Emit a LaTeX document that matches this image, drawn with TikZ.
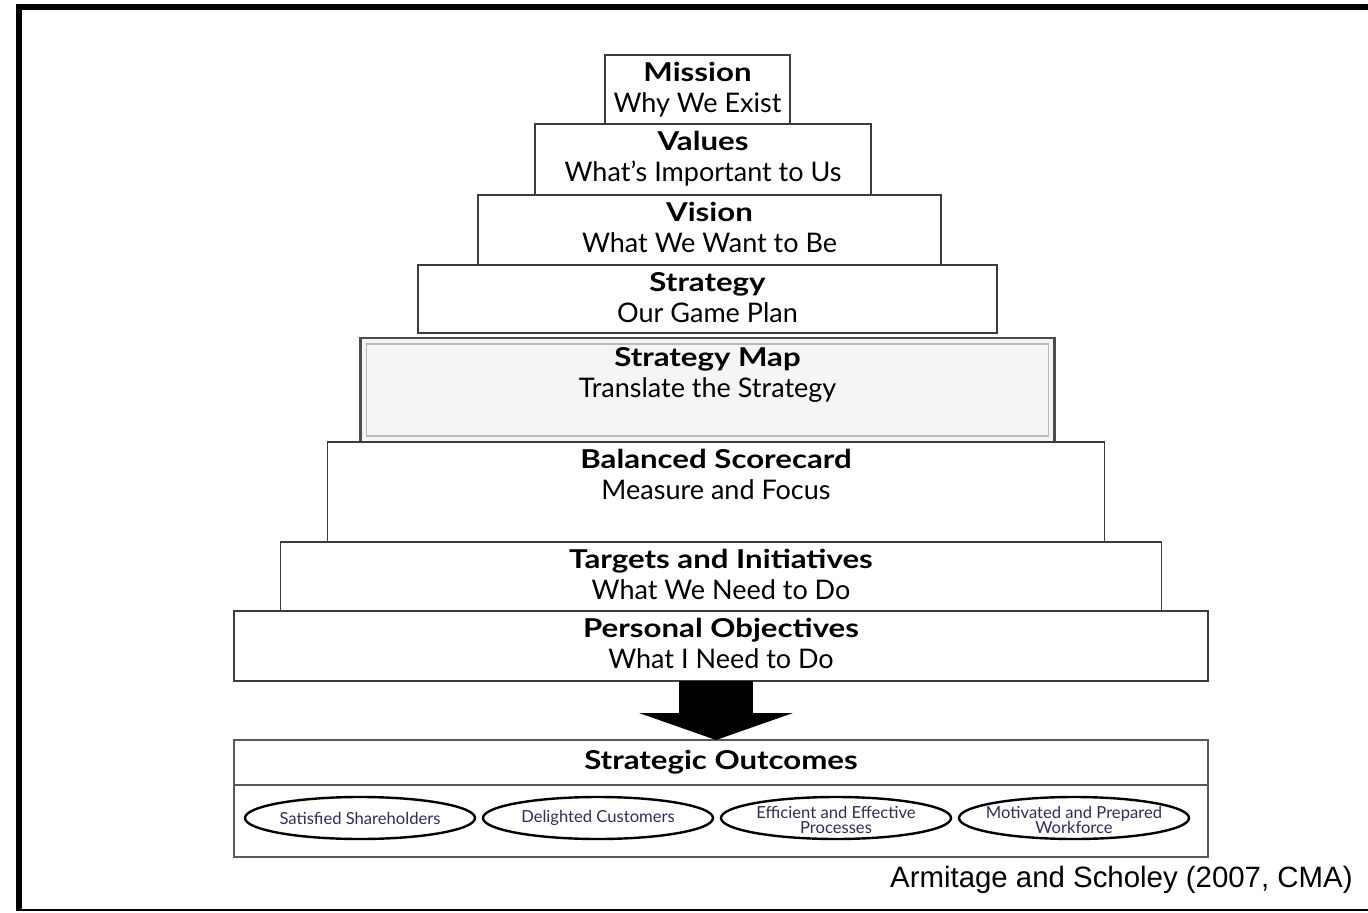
\documentclass[tikz,border=0pt]{standalone}
\usepackage{fontspec}
\setmainfont{Lato}[BoldFeatures={FakeStretch=1.2}]
\newfontfamily\citefont{Liberation Sans}
\usepackage{xcolor}
\usetikzlibrary{arrows.meta,positioning,shapes.geometric}
\definecolor{inkblue}{RGB}{45,45,95}
\definecolor{boxline}{RGB}{60,60,60}

\begin{document}
\begin{tikzpicture}[
      x=0.5pt, y=-0.5pt,
      layer/.style={draw=boxline, line width=0.9pt, fill=white, inner sep=0pt, outer sep=0pt},
      caption/.style={align=center, inner sep=0pt, font=\fontsize{13.5}{15.5}\selectfont},
      goal/.style={draw=black, ellipse, line width=1.2pt, minimum width=115pt, minimum height=21pt, inner sep=0pt, outer sep=0pt},
      goaltext/.style={align=center, inner sep=0pt, text=inkblue, font=\fontsize{8.3}{7.6}\selectfont},
      >=LaTeX
    ]
    \useasboundingbox (0,0) rectangle (1368,913);
    % Frame
    \draw[line width=3pt] (1368,7) -- (18.5,7) -- (18.5,911);
    \draw[line width=1.3pt] (17,910) -- (1368,910);

    % Pyramid layers
    \node[layer, minimum width=92.5pt, minimum height=34.5pt, anchor=north] (mission) at (697.5,55) {};
    \node[layer, minimum width=168pt, minimum height=35.5pt, below=0pt of mission, xshift=2.75pt] (values) {};
    \node[layer, minimum width=231.5pt, minimum height=35pt, below=0pt of values, xshift=3.25pt] (vision) {};
    \node[layer, minimum width=289.5pt, minimum height=34pt, below=0pt of vision, xshift=-1pt] (strategy) {};
    \node[layer, fill=black!4, draw=black!70, line width=1.4pt, minimum width=347pt, minimum height=52pt, below=2.5pt of strategy] (smap) {};
    \draw[gray!55, line width=0.6pt] ([shift={(3pt,-3pt)}]smap.north west) rectangle ([shift={(-3pt,3pt)}]smap.south east);
    \node[layer, minimum width=388.5pt, minimum height=50pt, below=0pt of smap, xshift=4.25pt] (scorecard) {};
    \node[layer, minimum width=440.5pt, minimum height=34.5pt, below=0pt of scorecard, xshift=2.5pt] (targets) {};
    \node[layer, minimum width=487pt, minimum height=35pt, below=0pt of targets] (personal) {};

    % Layer texts
    \node[caption, below=3.6pt of mission.north] (missiontxt) {\textbf{\fontsize{13}{15.5}\selectfont Mission}\\Why We Exist};
    \node[caption, below=3.6pt of values.north] (valuestxt) {\textbf{\fontsize{13}{15.5}\selectfont Values}\\What’s Important to Us};
    \node[caption, below=3.6pt of vision.north] (visiontxt) {\textbf{\fontsize{13}{15.5}\selectfont Vision}\\What We Want to Be};
    \node[caption, below=3.6pt of strategy.north] (strategytxt) {\textbf{\fontsize{13}{15.5}\selectfont Strategy}\\Our Game Plan};
    \node[caption, below=4.6pt of smap.north] (smaptxt) {\textbf{\fontsize{13}{15.5}\selectfont Strategy Map}\\Translate the Strategy};
    \node[caption, below=3.6pt of scorecard.north] (scorecardtxt) {\textbf{\fontsize{13}{15.5}\selectfont Balanced Scorecard}\\Measure and Focus};
    \node[caption, below=3.6pt of targets.north] (targetstxt) {\textbf{\fontsize{13}{15.5}\selectfont Targets and Initiatives}\\What We Need to Do};
    \node[caption, below=3.6pt of personal.north] (personaltxt) {\textbf{\fontsize{13}{15.5}\selectfont Personal Objectives}\\What I Need to Do};

    % Outcomes
    \node[layer, draw=black!65, line width=1pt, minimum width=487pt, minimum height=22.5pt, below=29.5pt of personal, font=\bfseries\fontsize{13}{15}\selectfont] (outhead) {Strategic Outcomes};
    \node[layer, draw=black!65, line width=1pt, minimum width=487pt, minimum height=36pt, below=0pt of outhead] (outrow) {};
    \node[goal, right=5.5pt of outrow.west, yshift=1.5pt] (holders) {};
    \node[goal, right=4pt of holders] (customers) {};
    \node[goal, right=4pt of customers] (processes) {};
    \node[goal, right=4pt of processes] (workforce) {};
    \node[goaltext] (holderstxt) at (holders) {Satisfied Shareholders};
    \node[goaltext] (customerstxt) at (customers) {Delighted Customers};
    \node[goaltext, yshift=-1pt] (processestxt) at (processes) {Efficient and Effective\\Processes};
    \node[goaltext, yshift=-1pt] (workforcetxt) at (workforce) {Motivated and Prepared\\Workforce};

    % Big arrow down
    \draw[line width=37pt, -{Triangle[width=77pt, length=13.5pt, line width=0pt]}] ([xshift=-2.5pt]personal.south) -- ([xshift=-2.5pt]outhead.north);

    % Source
    \node[anchor=east, inner sep=0pt, font=\citefont\fontsize{14.7}{17}\selectfont] (source) at (1353,880) {Armitage and Scholey (2007, CMA)};
  \end{tikzpicture}
\end{document}
